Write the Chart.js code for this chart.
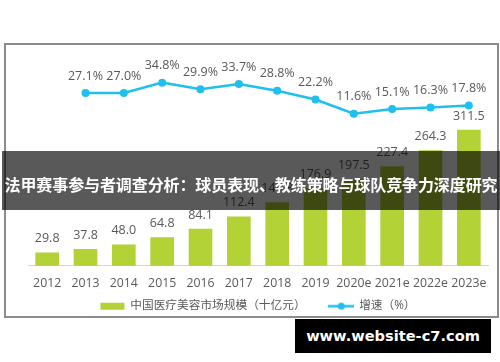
<!DOCTYPE html>
<html>
<head>
<meta charset="utf-8">
<script src="https://cdn.jsdelivr.net/npm/chart.js@4.4.1/dist/chart.umd.min.js"></script>
<style>
  html,body{margin:0;padding:0;background:#fff;}
  #wrap{position:relative;width:500px;height:362px;overflow:hidden;background:#fff;}
  #frame{position:absolute;left:4px;top:43px;width:495px;height:275px;box-sizing:border-box;border:2px solid #8c8c8c;}
  canvas{position:absolute;left:0;top:0;}
  #banner{position:absolute;left:2px;top:151px;width:498px;height:59px;background:rgba(0,0,0,0.65);}
  #banner span{position:absolute;left:0;right:0;top:21px;text-align:center;color:#fff;font:bold 16px "Noto Sans CJK SC",sans-serif;line-height:24px;white-space:nowrap;letter-spacing:-0.1px;}
  #mark{position:absolute;left:295px;top:319px;width:196px;height:34px;background:#000;color:#fff;font:bold 14.6px "DejaVu Sans",sans-serif;line-height:34px;text-align:center;}
</style>
</head>
<body>
<div id="wrap">
  <div id="frame"></div>
  <canvas id="c" width="500" height="362"></canvas>
  <div id="banner"><span>法甲赛事参与者调查分析：球员表现、教练策略与球队竞争力深度研究</span></div>
  <div id="mark">www.website-c7.com</div>
</div>
<script>
const categories = ['2012','2013','2014','2015','2016','2017','2018','2019','2020e','2021e','2022e','2023e'];
const marketSize = [29.8, 37.8, 48.0, 64.8, 84.1, 112.4, 144.8, 176.9, 197.5, 227.4, 264.3, 311.5];
const growthRate = [null, 27.1, 27.0, 34.8, 29.9, 33.7, 28.8, 22.2, 11.6, 15.1, 16.3, 17.8];
const seriesNames = ['中国医疗美容市场规模（十亿元）', '增速（%）'];

const GREEN = '#b2d235';
const CYAN = '#1fbff0';
const TXT = '#595959';
const FONT = "'Open Sans','Noto Sans CJK SC',sans-serif";

const lineIcon = document.createElement('canvas');
lineIcon.width = 26; lineIcon.height = 9;
(function(){
  const g = lineIcon.getContext('2d');
  g.strokeStyle = CYAN; g.lineWidth = 2.5;
  g.beginPath(); g.moveTo(0,4.5); g.lineTo(26,4.5); g.stroke();
  g.fillStyle = CYAN; g.beginPath(); g.arc(13,4.5,3.6,0,Math.PI*2); g.fill();
})();

const valueLabels = {
  id: 'valueLabels',
  afterDatasetsDraw(chart) {
    const ctx = chart.ctx;
    chart.data.datasets.forEach((ds, i) => {
      const meta = chart.getDatasetMeta(i);
      meta.data.forEach((el, j) => {
        const v = ds.data[j];
        if (v == null) return;
        const isLine = ds.type === 'line';
        const txt = isLine ? v.toFixed(1) + '%' : v.toFixed(1);
        ctx.save();
        ctx.font = '12.5px ' + FONT;
        ctx.fillStyle = TXT;
        ctx.textAlign = 'center';
        ctx.textBaseline = 'middle';
        ctx.fillText(txt, el.x, el.y - (isLine ? 17 : 14));
        ctx.restore();
      });
    });
  }
};

Chart.defaults.font.family = FONT;

new Chart(document.getElementById('c'), {
  data: {
    labels: categories,
    datasets: [
      { type: 'bar', label: seriesNames[0], data: marketSize, backgroundColor: GREEN,
        barThickness: 23, yAxisID: 'y', order: 2 },
      { type: 'line', label: seriesNames[1], data: growthRate, borderColor: CYAN, backgroundColor: CYAN,
        borderWidth: 2.5, pointRadius: 4, pointBackgroundColor: CYAN, pointBorderWidth: 0,
        tension: 0, yAxisID: 'y2', order: 1 }
    ]
  },
  options: {
    responsive: false,
    devicePixelRatio: 1,
    animation: false,
    layout: { padding: { left: 28, right: 12, top: 60, bottom: 40 } },
    plugins: {
      tooltip: { enabled: false },
      legend: {
        position: 'bottom',
        labels: {
          usePointStyle: true, pointStyleWidth: 24, boxHeight: 7, padding: 8.5,
          color: TXT, font: { size: 11.7 },
          generateLabels() {
            return [
              { text: seriesNames[0] + '\u00a0\u00a0\u00a0\u00a0\u00a0', fillStyle: GREEN, strokeStyle: GREEN, lineWidth: 0,
                pointStyle: 'rect', datasetIndex: 0, hidden: false, fontColor: TXT },
              { text: seriesNames[1], fillStyle: CYAN, strokeStyle: CYAN, lineWidth: 0,
                pointStyle: lineIcon, datasetIndex: 1, hidden: false, fontColor: TXT }
            ];
          }
        }
      }
    },
    scales: {
      x: {
        grid: { display: false, drawTicks: false },
        border: { display: true, color: '#d4d4d4', width: 1 },
        ticks: { color: TXT, font: { size: 12.3 }, padding: 10, maxRotation: 0, autoSkip: false },
        afterFit(s) { s.height = 26; }
      },
      y: { display: false, min: 0, max: 472 },
      y2: { display: false, position: 'right', min: -102, max: 51.7 }
    }
  },
  plugins: [valueLabels]
});
</script>
</body>
</html>
